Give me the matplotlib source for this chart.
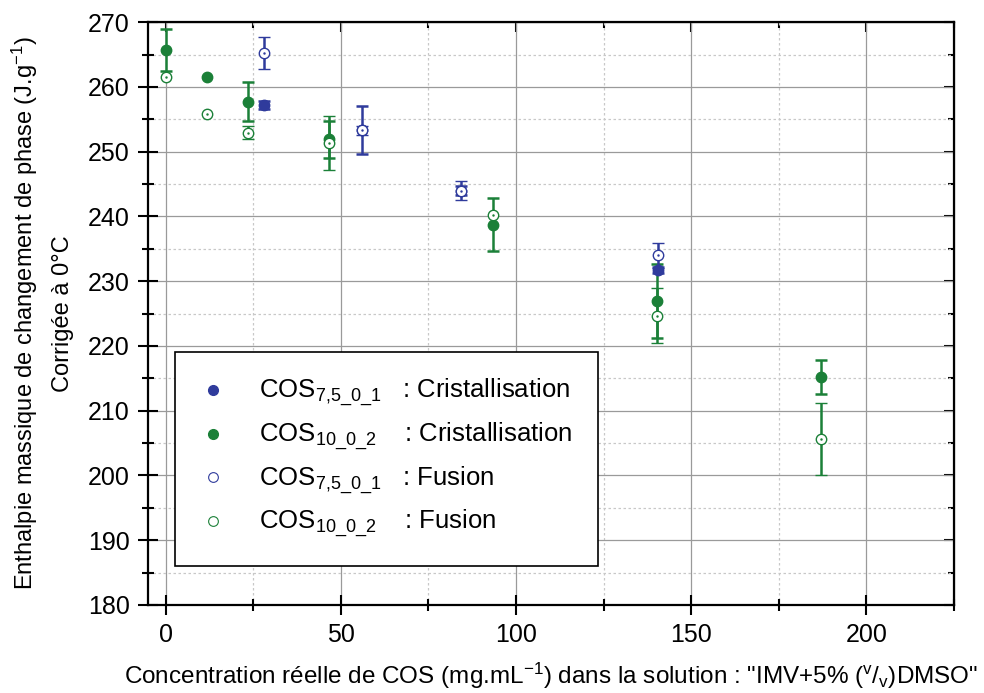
import numpy as np
import matplotlib.pyplot as plt
from matplotlib.lines import Line2D
from matplotlib.ticker import MultipleLocator

plt.rcParams['font.family'] = ['Liberation Sans', 'DejaVu Sans']
plt.rcParams['mathtext.fontset'] = 'custom'
plt.rcParams['mathtext.rm'] = 'Liberation Sans'
plt.rcParams['mathtext.it'] = 'Liberation Sans'

# COS 7,5_0_1 (blue)
x_75 = [28.1, 56.2, 84.3, 140.5]
cris_75 = [257.2, 253.3, 244.0, 231.7]
cris_75_err = [0.6, 3.7, 0.7, 0.5]
fus_75 = [265.2, 253.3, 244.0, 234.0]
fus_75_err = [2.5, 0.7, 1.4, 1.9]

# COS 10_0_2 (green), nan = no visible error bar
x_10 = [0.0, 11.7, 23.4, 46.8, 93.6, 140.4, 187.2]
cris_10 = [265.7, 261.6, 257.7, 251.9, 238.7, 226.9, 215.2]
cris_10_err = [3.2, np.nan, 3.0, 2.8, 4.1, 5.7, 2.6]
fus_10 = [261.6, 255.8, 252.9, 251.3, 240.3, 224.7, 205.6]
fus_10_err = [np.nan, np.nan, 1.0, 4.2, np.nan, 4.2, 5.6]

blue = '#2f3b9c'
green = '#1b8038'

fig = plt.figure(figsize=(9.84, 6.93), dpi=100)
ax = fig.add_axes([0.1504, 0.127, 0.819, 0.841])

kw = dict(ls='none', marker='o', ms=7.5, capsize=4.5, elinewidth=1.8, capthick=1.8)
ax.errorbar(x_10, cris_10, yerr=cris_10_err, color=green, mfc=green, mec=green, zorder=3, **kw)
ax.errorbar(x_75, cris_75, yerr=cris_75_err, color=blue, mfc=blue, mec=blue, zorder=3, **kw)
ax.errorbar(x_10, fus_10, yerr=fus_10_err, color=green, mfc='white', mec=green, mew=1.0, zorder=4, **kw)
ax.errorbar(x_75, fus_75, yerr=fus_75_err, color=blue, mfc='white', mec=blue, mew=1.0, zorder=4, **kw)
# centre dots of the open markers
ax.plot(x_10, fus_10, ls='none', marker='.', ms=1.5, color=green, zorder=5)
ax.plot(x_75, fus_75, ls='none', marker='.', ms=1.5, color=blue, zorder=5)

ax.set_xlim(-5, 225)
ax.set_ylim(180, 270)
ax.xaxis.set_major_locator(MultipleLocator(50))
ax.xaxis.set_minor_locator(MultipleLocator(25))
ax.yaxis.set_major_locator(MultipleLocator(10))
ax.yaxis.set_minor_locator(MultipleLocator(5))
ax.grid(which='major', color='#9a9a9a', lw=0.9, ls='-')
ax.grid(which='minor', color='#c8c8c8', lw=0.9, ls=(0, (2, 2)))
ax.set_axisbelow(True)
ax.tick_params(which='major', direction='inout', length=14, width=1.5, labelsize=18, pad=6)
ax.tick_params(which='minor', direction='inout', length=8, width=1.5)
for s in ax.spines.values():
    s.set_linewidth(1.6)

top = ax.secondary_xaxis('top')
top.xaxis.set_major_locator(MultipleLocator(50))
top.xaxis.set_minor_locator(MultipleLocator(25))
top.tick_params(which='major', direction='in', length=7, width=1.5, labeltop=False)
top.tick_params(which='minor', direction='in', length=4, width=1.5)
right = ax.secondary_yaxis('right')
right.yaxis.set_major_locator(MultipleLocator(10))
right.yaxis.set_minor_locator(MultipleLocator(5))
right.tick_params(which='major', direction='in', length=7, width=1.5, labelright=False)
right.tick_params(which='minor', direction='in', length=4, width=1.5)

ax.set_xlabel('Concentration réelle de COS (mg.mL$^{-1}$) dans la solution : "IMV+5% ($^{v}$/$_{v}$)DMSO"',
              fontsize=17.5, labelpad=10)
ax.set_ylabel('Enthalpie massique de changement de phase (J.g$^{-1}$)\nCorrigée à 0°C',
              fontsize=17, labelpad=10, linespacing=1.7)

handles = [
    Line2D([], [], ls='none', marker='o', ms=7, color=blue),
    Line2D([], [], ls='none', marker='o', ms=7, color=green),
    Line2D([], [], ls='none', marker='o', ms=7, mfc='white', mec=blue, mew=0.8),
    Line2D([], [], ls='none', marker='o', ms=7, mfc='white', mec=green, mew=0.8),
]
labels = [
    r'COS$_{\mathregular{7{,}5\_0\_1}}$   : Cristallisation',
    r'COS$_{\mathregular{10\_0\_2}}$    : Cristallisation',
    r'COS$_{\mathregular{7{,}5\_0\_1}}$   : Fusion',
    r'COS$_{\mathregular{10\_0\_2}}$    : Fusion',
]
leg = ax.legend(handles, labels, loc='lower left', bbox_to_anchor=(0.033, 0.067),
                fontsize=18.5, frameon=True, fancybox=False, edgecolor='black',
                framealpha=1, borderpad=1.0, labelspacing=0.45, handlelength=1.0,
                handletextpad=1.3, borderaxespad=0)
leg.get_frame().set_linewidth(1.2)
leg.set_zorder(6)

fig.savefig('out.png', dpi=100)
